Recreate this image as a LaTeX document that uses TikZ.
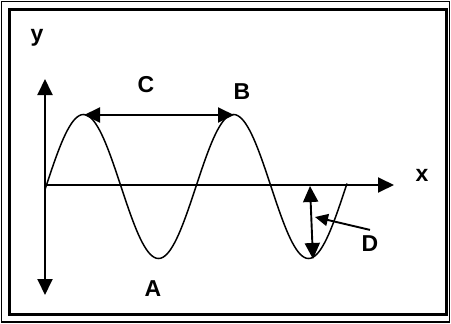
\documentclass[tikz,border=0pt]{standalone}
\usepackage{fontspec}
\setmainfont{Liberation Sans}
\usetikzlibrary{arrows.meta}

\begin{document}
\begin{tikzpicture}[
 x=1pt, y=-1pt,
 font=\bfseries\fontsize{23}{25}\selectfont,
 >={Triangle[length=16pt,width=15pt]},
 axisline/.style={line width=1.9pt},
 wave/.style={line width=1.5pt},
 pointer/.style={line width=1.9pt, -{Triangle[length=13pt,width=12pt]}},
 lbl/.style={inner sep=0pt},
]
\useasboundingbox (0,0) rectangle (451,324);
% double frame
\draw[line width=1.6pt] (1.5,1.5) rectangle (449.5,322);
\draw[line width=3pt] (9,9) rectangle (446,314);
% points on the axes and the wave
\coordinate (O) at (45,185);
\coordinate (ytop) at (45,79);
\coordinate (ybot) at (45,295);
\coordinate (xend) at (394,185);
\coordinate (peakL) at (84,115);
\coordinate (peakR) at (234,115);
\coordinate (dtop) at (310,186);
\coordinate (dbot) at (313,259);
\coordinate (dtip) at (315,217);
% labels
\node[lbl] (ylab) at (37,38) {y};
\node[lbl] (xlab) at (422,175) {x};
\node[lbl] (C) at (146,85) {C};
\node[lbl] (B) at (242,92) {B};
\node[lbl] (A) at (153,289) {A};
\node[lbl] (D) at (370,244) {D};
% axes
\draw[axisline,<->] (ybot) -- (ytop);
\draw[axisline,->] (O) -- (xend);
% wave
\draw[wave] plot[domain=45:347, samples=150, smooth]
 (\x, {186.5 - 72*sin((\x-46)*2.4)});
% wavelength and amplitude
\draw[axisline,<->] (peakL) -- (peakR);
\draw[axisline,<->] (dtop) -- (dbot);
\draw[pointer] ([yshift=6pt]D.north) -- (dtip);
\end{tikzpicture}
\end{document}
